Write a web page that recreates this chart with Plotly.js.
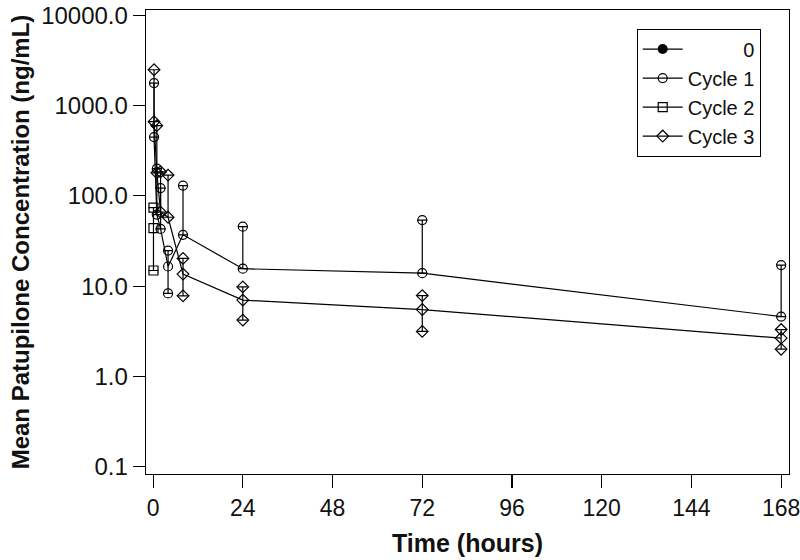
<!DOCTYPE html>
<html>
<head>
<meta charset="utf-8">
<script src="https://cdn.plot.ly/plotly-3.0.1.min.js"></script>
<style>html,body{margin:0;padding:0;background:#fff;}#chart{width:800px;height:560px;}</style>
</head>
<body>
<div id="chart"></div>
<script>
// ---- data ----
const legendNames = ["\u00a0\u00a0\u00a0\u00a0\u00a0\u00a0\u00a0\u00a0\u00a0\u00a00", "Cycle 1", "Cycle 2", "Cycle 3"];

const cycle1Time  = [0.25, 1, 2, 4, 8, 24, 72, 168];
const cycle1Mean  = [448, 62, 43, 16.5, 37, 15.6, 13.9, 4.6];
const cycle1Upper = [1780, 200, 122, 24.8, 130, 45.6, 54, 17.1];
const cycle1Lower = [null, null, null, 8.3, null, null, null, null];

const cycle2Time  = [0.1];
const cycle2Mean  = [44];
const cycle2Upper = [74];
const cycle2Lower = [14.9];

const cycle3Time  = [0.25, 1, 2, 4, 8, 24, 72, 168];
const cycle3Mean  = [664, 180, 66, 58, 13.6, 7.0, 5.5, 2.65];
const cycle3Upper = [2500, 600, 185, 170, 20.3, 9.8, 7.85, 3.3];
const cycle3Lower = [null, null, null, null, 7.8, 4.2, 3.15, 2.0];

const xTickVals = [0, 24, 48, 72, 96, 120, 144, 168];
const yTickVals = [0.1, 1, 10, 100, 1000, 10000];
const yTickText = ["0.1", "1.0", "10.0", "100.0", "1000.0", "10000.0"];

// ---- build traces ----
const FONT = "Liberation Sans, Arial, sans-serif";
function seriesTraces(name, t, mean, up, lo, symbol) {
  const plus = mean.map((m, i) => up[i] - m);
  const minus = mean.map((m, i) => (lo[i] == null ? 0 : m - lo[i]));
  const main = {
    type: "scatter", mode: "lines+markers", name: name, x: t, y: mean,
    line: {color: "black", width: 1.2},
    marker: {symbol: symbol, size: 9, color: "black", line: {color: "black", width: 1.2}},
    error_y: {type: "data", symmetric: false, array: plus, arrayminus: minus,
              color: "black", thickness: 1.2, width: 5}
  };
  const ex = [], ey = [];
  t.forEach((v, i) => { ex.push(v); ey.push(up[i]); if (lo[i] != null) { ex.push(v); ey.push(lo[i]); } });
  const ends = {
    type: "scatter", mode: "markers", x: ex, y: ey, showlegend: false, hoverinfo: "skip",
    marker: {symbol: symbol, size: 9, color: "black", line: {color: "black", width: 1.2}}
  };
  return [main, ends];
}

const traces = [
  {type: "scatter", mode: "lines+markers", name: legendNames[0], x: [null], y: [null],
   line: {color: "black", width: 1.2}, marker: {symbol: "circle", size: 10, color: "black"}},
  ...seriesTraces(legendNames[1], cycle1Time, cycle1Mean, cycle1Upper, cycle1Lower, "circle-open"),
  ...seriesTraces(legendNames[2], cycle2Time, cycle2Mean, cycle2Upper, cycle2Lower, "square-open"),
  ...seriesTraces(legendNames[3], cycle3Time, cycle3Mean, cycle3Upper, cycle3Lower, "diamond-open")
];

const layout = {
  width: 800, height: 560,
  margin: {l: 146, r: 11, t: 10, b: 86},
  paper_bgcolor: "white", plot_bgcolor: "white",
  font: {family: FONT, size: 24, color: "black"},
  showlegend: true,
  legend: {
    x: 0.956, xanchor: "right", y: 0.96, yanchor: "top",
    bordercolor: "black", borderwidth: 1, bgcolor: "white",
    font: {family: FONT, size: 20, color: "#111"},
    itemwidth: 40, tracegroupgap: 0
  },
  xaxis: {
    range: [-1.9, 170.1], tickvals: xTickVals, ticktext: xTickVals.map(String),
    showgrid: false, zeroline: false, showline: true, mirror: true,
    linecolor: "black", linewidth: 1.3, ticks: "outside", ticklen: 13, tickcolor: "black", tickwidth: 1.2,
    tickfont: {family: FONT, size: 23, color: "#111"}, ticklabeloverflow: "allow",
    title: {text: "Time (hours)", font: {family: FONT, size: 25, color: "#111", weight: "bold"}, standoff: 14}
  },
  yaxis: {
    type: "log", range: [-1.082, 4.06], tickvals: yTickVals, ticktext: yTickText,
    showgrid: false, zeroline: false, showline: true, mirror: true,
    linecolor: "black", linewidth: 1.3, ticks: "outside", ticklen: 12, tickcolor: "black", tickwidth: 1.2,
    tickfont: {family: FONT, size: 24, color: "#111"}, ticklabeloverflow: "allow",
    title: {text: "Mean Patupilone Concentration (ng/mL)", font: {family: FONT, size: 24, color: "#111", weight: "bold"}, standoff: 4}
  }
};

Plotly.newPlot("chart", traces, layout, {displayModeBar: false, staticPlot: true});
</script>
</body>
</html>
